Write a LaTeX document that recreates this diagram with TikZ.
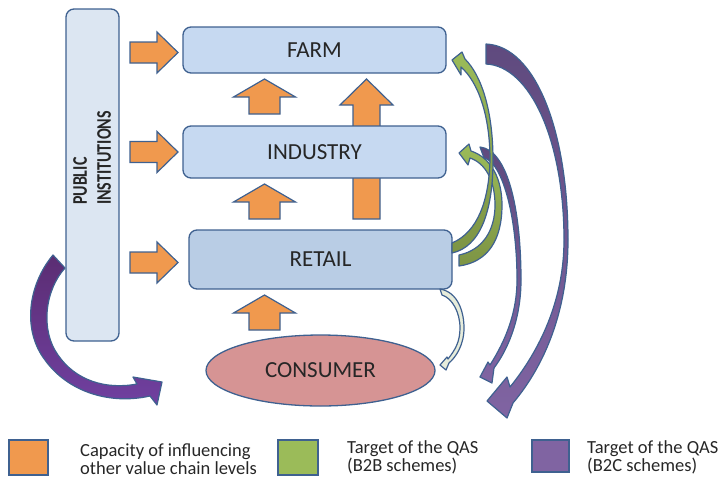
\documentclass[tikz,border=0pt]{standalone}
\usepackage{fontspec}
\setmainfont{Carlito}
\usetikzlibrary{shapes.geometric}
\definecolor{ol}{HTML}{3F6190}
\definecolor{orng}{HTML}{F0994E}
\definecolor{farmc}{HTML}{C6D9F1}
\definecolor{retc}{HTML}{B9CDE5}
\definecolor{pubc}{HTML}{DCE6F2}
\definecolor{consc}{HTML}{D69494}
\definecolor{grn}{HTML}{9BBB59}
\definecolor{grnd}{HTML}{7D9444}
\definecolor{prp}{HTML}{8064A2}
\definecolor{prpd}{HTML}{5F4A7E}
\definecolor{prpl}{HTML}{5B2D73}
\definecolor{prpl2}{HTML}{7040A0}
\definecolor{pale}{HTML}{E6ECDB}
\definecolor{txt}{HTML}{262626}
\begin{document}
\begin{tikzpicture}[x=1pt,y=-1pt,
  box/.style={draw=ol, line width=1.3pt, rounded corners=8pt, text=txt,
    font=\fontsize{23}{27}\selectfont, inner sep=0pt},
  blk/.style={draw=ol, fill=orng, line width=1.2pt, line join=miter},
  curv/.style={draw=ol, line width=1.2pt, line join=round},
  legtxt/.style={text=txt, font=\fontsize{18.5}{18}\selectfont, align=left, anchor=base west, inner sep=0pt},
  legbox/.style={draw=ol, line width=1.3pt},
  rarr/.pic={\path[blk] (0,-10.5) -- (27,-10.5) -- (27,-20.5) -- (48,0) -- (27,20.5) -- (27,10.5) -- (0,10.5) -- cycle;},
  uarr/.pic={\path[blk] (-15.5,0) -- (-15.5,-17) -- (-31,-17) -- (0,-35) -- (31,-17) -- (15.5,-17) -- (15.5,0) -- cycle;}
]
\path[use as bounding box] (0,0) rectangle (720,480);

% big up arrow behind industry
\path[blk] (353,219) -- (353,105) -- (340,105) -- (366.5,79) -- (393,105) -- (380,105) -- (380,219) -- cycle;

% boxes
\node[box, fill=pubc, minimum width=53pt, minimum height=332pt] (pub) at (92.5,175) {};
\node[rotate=90, text=txt, inner sep=0pt] (pubtxt) at (94,158) {\scalebox{1}[1.3]{\fontsize{16}{18.5}\selectfont\bfseries\begin{tabular}{@{}l@{}}PUBLIC\\INSTITUTIONS\end{tabular}}};
\node[box, fill=farmc, minimum width=263pt, minimum height=46pt] (farm) at (314.5,50) {FARM};
\node[box, fill=farmc, minimum width=263pt, minimum height=52pt] (ind) at (314.5,152) {INDUSTRY};
\node[box, fill=retc, minimum width=263pt, minimum height=59pt] (ret) at (320.5,259.5) {RETAIL};
\node[ellipse, draw=ol, line width=1.3pt, fill=consc, minimum width=229pt, minimum height=71pt, inner sep=0pt, text=txt, font=\fontsize{23}{27}\selectfont] (cons) at (320.5,370.5) {CONSUMER};

% orange arrows
\pic at (130,52.5) {rarr};
\pic at (130,152) {rarr};
\pic at (130,262.5) {rarr};
\pic at (264.5,114) {uarr};
\pic at (264.5,219) {uarr};
\pic at (264.5,330) {uarr};

% big purple: farm -> consumer
\path[curv, top color=prpd, bottom color=prp]
  (486,44) .. controls (535,46) and (568,130) .. (568,240)
  .. controls (568,310) and (545,365) .. (513,403)
  -- (507,418) -- (487,401) -- (507,377) -- (510,387)
  .. controls (540,350) and (564,300) .. (564,240)
  .. controls (564,140) and (530,66) .. (486,64) -- cycle;

% green: retail -> industry
\path[curv, top color=grn, bottom color=grnd]
  (459,255) .. controls (483,250) and (495,230) .. (495,205)
  .. controls (495,180) and (485,163) .. (470,158)
  -- (468,165) -- (459,153) -- (469,144) -- (471,151)
  .. controls (492,158) and (502,180) .. (502,205)
  .. controls (502,240) and (488,262) .. (459,266) -- cycle;

% purple: industry -> consumer
\path[curv, top color=prpd, bottom color=prp]
  (480,147) .. controls (508,150) and (521,210) .. (521,280)
  .. controls (521,322) and (506,352) .. (494,368)
  -- (492,383) -- (480,377) -- (488,362) -- (490,365)
  .. controls (506,340) and (517,312) .. (517,280)
  .. controls (517,215) and (502,162) .. (484,158) -- cycle;

% green: retail -> farm
\path[curv, top color=grn, bottom color=grnd]
  (452,243) .. controls (478,232) and (489,200) .. (490,160)
  .. controls (490,115) and (478,82) .. (461,67)
  -- (461,75) -- (452,60) -- (462,52) -- (465,59)
  .. controls (482,76) and (493,112) .. (493,160)
  .. controls (493,212) and (480,247) .. (452,253) -- cycle;

% pale: retail -> consumer
\path[curv, fill=pale]
  (440,289) .. controls (458,292) and (464,312) .. (464,328)
  .. controls (464,345) and (456,357) .. (449,363)
  -- (446,370) -- (440,365) -- (447,357) -- (448,359)
  .. controls (455,350) and (460,342) .. (460,328)
  .. controls (460,312) and (452,298) .. (442,295) -- cycle;

% purple: public -> consumer
\path[curv, top color=prpl, bottom color=prpl2]
  (53,255) .. controls (28,285) and (22,330) .. (45,360)
  .. controls (68,392) and (110,405) .. (150,396)
  -- (157,405) -- (162,382) -- (133,377) -- (137,384)
  .. controls (105,390) and (75,380) .. (58,355)
  .. controls (40,330) and (45,290) .. (65,268) -- cycle;

% legend
\node[legbox, fill=orng, minimum width=39pt, minimum height=35pt, inner sep=0pt] (lo) at (28.5,457.5) {};
\node[legtxt] (lot) at (80,474) {Capacity of influencing\\other value chain levels};
\node[legbox, fill=grn, minimum width=40pt, minimum height=35pt, inner sep=0pt] (lg) at (298,457.5) {};
\node[legtxt] (lgt) at (347,471) {Target of the QAS\\(B2B schemes)};
\node[legbox, fill=prp, minimum width=37pt, minimum height=32pt, inner sep=0pt] (lp) at (550.5,456) {};
\node[legtxt] (lpt) at (587,471) {Target of the QAS\\(B2C schemes)};
\end{tikzpicture}
\end{document}
